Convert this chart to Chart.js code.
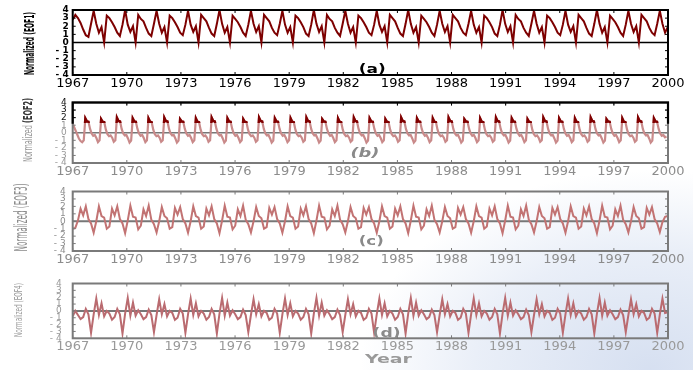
<!DOCTYPE html>
<html>
<head>
<meta charset="utf-8">
<script src="https://cdn.jsdelivr.net/npm/chart.js@4.4.0/dist/chart.umd.min.js"></script>
<style>
  html, body { margin: 0; padding: 0; }
  body {
    width: 693px; height: 370px; position: relative; overflow: hidden;
    background:
      radial-gradient(ellipse 290px 200px at 650px 370px, rgba(212,222,240,0.95), rgba(222,230,244,0.65) 60%, rgba(255,255,255,0) 100%),
      #fff;
  }
  canvas { position: absolute; left: 0; }
</style>
</head>
<body>
<canvas id="cA" width="693" height="92" style="top:0px"></canvas>
<canvas id="cB" width="693" height="88" style="top:92px"></canvas>
<canvas id="cC" width="693" height="88" style="top:180px"></canvas>
<canvas id="cD" width="693" height="102" style="top:268px"></canvas>
<script>
// tick labels
const yearTicks = [1967, 1970, 1973, 1976, 1979, 1982, 1985, 1988, 1991, 1994, 1997, 2000];
const valueTicks = [-4, -3, -2, -1, 0, 1, 2, 3, 4];

// sampling of the series (years between samples)
const START_YEAR = 1967;
const STEP_ACD = 0.1453;
const STEP_B = 0.08755;

// EOF1
const eof1 = [
  2.8, 3.4, 3.0, 2.4, 1.6, 0.9, 0.7, 2.3,
  3.9, 2.3, 1.2, 1.9, 0.0, 3.3, 3.0, 2.5, 1.9, 1.2, 0.8, 2.2,
  4.0, 2.2, 1.3, 2.0, 0.0, 3.4, 2.9, 2.6, 1.8, 1.1, 0.8, 2.3,
  3.9, 2.3, 1.2, 1.9, 0.0, 3.3, 3.0, 2.5, 1.9, 1.2, 0.9, 2.2,
  3.9, 2.2, 1.3, 2.0, 0.0, 3.4, 3.0, 2.6, 1.8, 1.1, 0.8, 2.3,
  4.0, 2.3, 1.2, 1.9, 0.0, 3.3, 2.9, 2.5, 1.9, 1.2, 0.8, 2.2,
  3.9, 2.3, 1.3, 2.0, 0.0, 3.4, 3.0, 2.6, 1.8, 1.2, 0.9, 2.3,
  3.9, 2.2, 1.2, 1.9, 0.0, 3.3, 3.0, 2.5, 1.9, 1.1, 0.8, 2.2,
  4.0, 2.3, 1.3, 2.0, 0.0, 3.4, 2.9, 2.6, 1.8, 1.2, 0.8, 2.3,
  3.9, 2.3, 1.2, 1.9, 0.0, 3.3, 3.0, 2.5, 1.9, 1.2, 0.9, 2.2,
  3.9, 2.2, 1.3, 2.0, 0.0, 3.4, 3.0, 2.6, 1.8, 1.1, 0.8, 2.3,
  4.0, 2.3, 1.2, 1.9, 0.0, 3.3, 2.9, 2.5, 1.9, 1.2, 0.8, 2.2,
  3.9, 2.3, 1.3, 2.0, 0.0, 3.4, 3.0, 2.6, 1.8, 1.2, 0.9, 2.3,
  3.9, 2.2, 1.2, 1.9, 0.0, 3.3, 3.0, 2.5, 1.9, 1.1, 0.8, 2.2,
  4.0, 2.3, 1.3, 2.0, 0.0, 3.4, 2.9, 2.6, 1.8, 1.2, 0.8, 2.3,
  3.9, 2.3, 1.2, 1.9, 0.0, 3.3, 3.0, 2.5, 1.9, 1.2, 0.9, 2.2,
  3.9, 2.2, 1.3, 2.0, 0.0, 3.4, 3.0, 2.6, 1.8, 1.1, 0.8, 2.3,
  4.0, 2.3, 1.2, 1.9, 0.0, 3.3, 2.9, 2.5, 1.9, 1.2, 0.8, 2.2,
  3.9, 2.3, 1.3, 2.0, 0.0, 3.4, 3.0, 2.6, 1.8, 1.2, 0.9, 2.3,
  3.9, 2.3, 1.2, 1.9
];

// EOF2
const eof2 = [
  1.2, 0.7, 0.2, -0.3, -0.8, -1.1, -1.25, -1.0,
  1.9, 1.5, 1.45, 0.5, -0.1, -0.4, -0.3, -0.7, -1.25, -1.0,
  1.8, 1.45, 1.4, 0.4, -0.2, -0.45, -0.35, -0.65, -1.2, -1.0,
  2.0, 1.55, 1.5, 0.5, -0.1, -0.35, -0.3, -0.75, -1.3, -1.05,
  1.9, 1.5, 1.45, 0.5, -0.1, -0.4, -0.3, -0.7, -1.25, -1.0,
  1.9, 1.45, 1.4, 0.4, -0.2, -0.45, -0.35, -0.65, -1.2, -1.0,
  2.0, 1.55, 1.5, 0.5, -0.1, -0.35, -0.3, -0.75, -1.3, -1.05,
  1.8, 1.5, 1.45, 0.5, -0.1, -0.4, -0.3, -0.7, -1.25, -1.0,
  1.9, 1.45, 1.4, 0.4, -0.2, -0.45, -0.35, -0.65, -1.2, -1.0,
  2.0, 1.55, 1.5, 0.5, -0.1, -0.35, -0.3, -0.75, -1.3, -1.05,
  1.9, 1.5, 1.45, 0.5, -0.1, -0.4, -0.3, -0.7, -1.25, -1.0,
  1.8, 1.45, 1.4, 0.4, -0.2, -0.45, -0.35, -0.65, -1.2, -1.0,
  2.0, 1.55, 1.5, 0.5, -0.1, -0.35, -0.3, -0.75, -1.3, -1.05,
  1.9, 1.5, 1.45, 0.5, -0.1, -0.4, -0.3, -0.7, -1.25, -1.0,
  1.9, 1.45, 1.4, 0.4, -0.2, -0.45, -0.35, -0.65, -1.2, -1.0,
  2.0, 1.55, 1.5, 0.5, -0.1, -0.35, -0.3, -0.75, -1.3, -1.05,
  1.8, 1.5, 1.45, 0.5, -0.1, -0.4, -0.3, -0.7, -1.25, -1.0,
  1.9, 1.45, 1.4, 0.4, -0.2, -0.45, -0.35, -0.65, -1.2, -1.0,
  2.0, 1.55, 1.5, 0.5, -0.1, -0.35, -0.3, -0.75, -1.3, -1.05,
  1.9, 1.5, 1.45, 0.5, -0.1, -0.4, -0.3, -0.7, -1.25, -1.0,
  1.8, 1.45, 1.4, 0.4, -0.2, -0.45, -0.35, -0.65, -1.2, -1.0,
  2.0, 1.55, 1.5, 0.5, -0.1, -0.35, -0.3, -0.75, -1.3, -1.05,
  1.9, 1.5, 1.45, 0.5, -0.1, -0.4, -0.3, -0.7, -1.25, -1.0,
  1.9, 1.45, 1.4, 0.4, -0.2, -0.45, -0.35, -0.65, -1.2, -1.0,
  2.0, 1.55, 1.5, 0.5, -0.1, -0.35, -0.3, -0.75, -1.3, -1.05,
  1.8, 1.5, 1.45, 0.5, -0.1, -0.4, -0.3, -0.7, -1.25, -1.0,
  1.9, 1.45, 1.4, 0.4, -0.2, -0.45, -0.35, -0.65, -1.2, -1.0,
  2.0, 1.55, 1.5, 0.5, -0.1, -0.35, -0.3, -0.75, -1.3, -1.05,
  1.9, 1.5, 1.45, 0.5, -0.1, -0.4, -0.3, -0.7, -1.25, -1.0,
  1.8, 1.45, 1.4, 0.4, -0.2, -0.45, -0.35, -0.65, -1.2, -1.0,
  2.0, 1.55, 1.5, 0.5, -0.1, -0.35, -0.3, -0.75, -1.3, -1.05,
  1.9, 1.5, 1.45, 0.5, -0.1, -0.4, -0.3, -0.7, -1.25, -1.0,
  1.9, 1.45, 1.4, 0.4, -0.2, -0.45, -0.35, -0.65, -1.2, -1.0,
  2.0, 1.55, 1.5, 0.5, -0.1, -0.35, -0.3, -0.75, -1.3, -1.05,
  1.8, 1.5, 1.45, 0.5, -0.1, -0.4, -0.3, -0.7, -1.25, -1.0,
  1.9, 1.45, 1.4, 0.4, -0.2, -0.45, -0.35, -0.65, -1.2, -1.0,
  2.0, 1.55, 1.5, 0.5, -0.1, -0.35, -0.3, -0.75, -1.3, -1.05,
  1.9, 1.5, 1.45, 0.5, -0.1, -0.4, -0.3, -0.6, -0.5
];

// EOF3
const eof3 = [
  -1.0, -0.9, 0.1, 1.7, 0.8, 2.0, 0.3, -0.3,
  -1.55, 0.0, 2.0, 0.7, 0.5, -1.0, -0.7, 1.7, 0.8, 2.0, 0.3, -0.3,
  -1.6, 0.1, 2.1, 0.6, 0.5, -1.1, -0.6, 1.6, 0.7, 2.1, 0.2, -0.4,
  -1.5, 0.0, 1.9, 0.7, 0.4, -1.0, -0.8, 1.8, 0.9, 1.9, 0.3, -0.3,
  -1.55, 0.0, 2.0, 0.7, 0.5, -1.0, -0.7, 1.7, 0.8, 2.0, 0.3, -0.3,
  -1.6, 0.1, 2.1, 0.6, 0.5, -1.1, -0.6, 1.6, 0.7, 2.1, 0.2, -0.4,
  -1.5, 0.0, 1.9, 0.7, 0.4, -1.0, -0.8, 1.8, 0.9, 1.9, 0.3, -0.3,
  -1.55, 0.0, 2.0, 0.7, 0.5, -1.0, -0.7, 1.7, 0.8, 2.0, 0.3, -0.3,
  -1.6, 0.1, 2.1, 0.6, 0.5, -1.1, -0.6, 1.6, 0.7, 2.1, 0.2, -0.4,
  -1.5, 0.0, 1.9, 0.7, 0.4, -1.0, -0.8, 1.8, 0.9, 1.9, 0.3, -0.3,
  -1.55, 0.0, 2.0, 0.7, 0.5, -1.0, -0.7, 1.7, 0.8, 2.0, 0.3, -0.3,
  -1.6, 0.1, 2.1, 0.6, 0.5, -1.1, -0.6, 1.6, 0.7, 2.1, 0.2, -0.4,
  -1.5, 0.0, 1.9, 0.7, 0.4, -1.0, -0.8, 1.8, 0.9, 1.9, 0.3, -0.3,
  -1.55, 0.0, 2.0, 0.7, 0.5, -1.0, -0.7, 1.7, 0.8, 2.0, 0.3, -0.3,
  -1.6, 0.1, 2.1, 0.6, 0.5, -1.1, -0.6, 1.6, 0.7, 2.1, 0.2, -0.4,
  -1.5, 0.0, 1.9, 0.7, 0.4, -1.0, -0.8, 1.8, 0.9, 1.9, 0.3, -0.3,
  -1.55, 0.0, 2.0, 0.7, 0.5, -1.0, -0.7, 1.7, 0.8, 2.0, 0.3, -0.3,
  -1.6, 0.1, 2.1, 0.6, 0.5, -1.1, -0.6, 1.6, 0.7, 2.1, 0.2, -0.4,
  -1.5, 0.0, 1.9, 0.7, 0.4, -1.0, -0.8, 1.8, 0.9, 1.9, 0.3, -0.3,
  -1.45, -0.1, 0.6, 0.7
];

// EOF4
const eof4 = [
  -0.8, 0.0, -0.6, -1.2, -0.9, 0.3, -0.5,
  -3.2, -0.5, 1.8, -0.6, 1.1, -0.8, 0.0, -0.4, -1.3, -0.9, 0.3, -0.5,
  -3.3, -0.4, 1.9, -0.7, 1.2, -0.7, 0.1, -0.5, -1.2, -0.9, 0.2, -0.6,
  -3.1, -0.6, 1.7, -0.5, 1.0, -0.8, 0.0, -0.3, -1.3, -1.0, 0.3, -0.4,
  -3.2, -0.5, 1.8, -0.6, 1.1, -0.8, 0.0, -0.4, -1.3, -0.9, 0.3, -0.5,
  -3.3, -0.4, 1.9, -0.7, 1.2, -0.7, 0.1, -0.5, -1.2, -0.9, 0.2, -0.6,
  -3.1, -0.6, 1.7, -0.5, 1.0, -0.8, 0.0, -0.3, -1.3, -1.0, 0.3, -0.4,
  -3.2, -0.5, 1.8, -0.6, 1.1, -0.8, 0.0, -0.4, -1.3, -0.9, 0.3, -0.5,
  -3.3, -0.4, 1.9, -0.7, 1.2, -0.7, 0.1, -0.5, -1.2, -0.9, 0.2, -0.6,
  -3.1, -0.6, 1.7, -0.5, 1.0, -0.8, 0.0, -0.3, -1.3, -1.0, 0.3, -0.4,
  -3.2, -0.5, 1.8, -0.6, 1.1, -0.8, 0.0, -0.4, -1.3, -0.9, 0.3, -0.5,
  -3.3, -0.4, 1.9, -0.7, 1.2, -0.7, 0.1, -0.5, -1.2, -0.9, 0.2, -0.6,
  -3.1, -0.6, 1.7, -0.5, 1.0, -0.8, 0.0, -0.3, -1.3, -1.0, 0.3, -0.4,
  -3.2, -0.5, 1.8, -0.6, 1.1, -0.8, 0.0, -0.4, -1.3, -0.9, 0.3, -0.5,
  -3.3, -0.4, 1.9, -0.7, 1.2, -0.7, 0.1, -0.5, -1.2, -0.9, 0.2, -0.6,
  -3.1, -0.6, 1.7, -0.5, 1.0, -0.8, 0.0, -0.3, -1.3, -1.0, 0.3, -0.4,
  -3.2, -0.5, 1.8, -0.6, 1.1, -0.8, 0.0, -0.4, -1.3, -0.9, 0.3, -0.5,
  -3.3, -0.4, 1.9, -0.7, 1.2, -0.7, 0.1, -0.5, -1.2, -0.9, 0.2, -0.6,
  -3.1, -0.6, 1.7, -0.5, 1.0, -0.8, 0.0, -0.3, -1.3, -1.0, 0.3, -0.4,
  -3.2, -0.5, 1.8, -0.3, -0.2
];

const FONT = '"DejaVu Sans", Verdana, sans-serif';

function toPoints(values, step) {
  return values.map((v, i) => ({ x: START_YEAR + i * step, y: v }));
}

function stretchText(ctx, text, cx, cy, width, font, color) {
  ctx.save();
  ctx.font = font;
  const w = ctx.measureText(text).width;
  ctx.translate(cx, cy);
  ctx.scale(width / w, 1);
  ctx.fillStyle = color;
  ctx.textAlign = 'center';
  ctx.textBaseline = 'middle';
  ctx.fillText(text, 0, 0);
  ctx.restore();
}

// rotated axis title squeezed to a given length
function yTitle(ctx, parts, cx, cy, len) {
  ctx.save();
  let total = 0;
  parts.forEach(p => { ctx.font = p.font; p.w = ctx.measureText(p.text).width; total += p.w; });
  ctx.translate(cx, cy);
  ctx.rotate(-Math.PI / 2);
  ctx.scale(len / total, 1);
  ctx.textBaseline = 'middle';
  ctx.textAlign = 'left';
  let xx = -total / 2;
  parts.forEach(p => {
    ctx.font = p.font;
    ctx.fillStyle = p.color;
    ctx.fillText(p.text, xx, 0);
    xx += p.w;
  });
  ctx.restore();
}

function drawFrame(chart, color, lw) {
  const { ctx, chartArea: a, scales: { x, y } } = chart;
  ctx.strokeStyle = color;
  ctx.lineWidth = lw;
  ctx.strokeRect(a.left, a.top, a.right - a.left, a.bottom - a.top);
  ctx.lineWidth = 1;
  ctx.beginPath();
  x.ticks.forEach(t => {
    const px = x.getPixelForValue(t.value);
    ctx.moveTo(px, a.top); ctx.lineTo(px, a.top + 3);
    ctx.moveTo(px, a.bottom); ctx.lineTo(px, a.bottom - 3);
  });
  y.ticks.forEach(t => {
    const py = y.getPixelForValue(t.value);
    ctx.moveTo(a.left, py); ctx.lineTo(a.left + 3, py);
    ctx.moveTo(a.right, py); ctx.lineTo(a.right - 3, py);
  });
  ctx.stroke();
}

function panelPlugin(p) {
  return {
    id: 'panel' + p.id,
    beforeDatasetsDraw(chart) {
      const { ctx, chartArea: a, scales: { y } } = chart;
      const y0 = y.getPixelForValue(0);
      ctx.save();
      ctx.strokeStyle = p.zero;
      ctx.lineWidth = p.zeroWidth;
      ctx.beginPath();
      ctx.moveTo(a.left, y0); ctx.lineTo(a.right, y0);
      ctx.stroke();
      ctx.restore();
    },
    beforeDatasetDraw(chart, args) {
      if (p.darkAbove == null || args.index !== 0) return;
      const { ctx, chartArea: a, scales: { y } } = chart;
      ctx.save();
      ctx.beginPath();
      ctx.rect(a.left, a.top, a.right - a.left, y.getPixelForValue(p.darkAbove) - a.top);
      ctx.clip();
    },
    afterDatasetDraw(chart, args) {
      if (p.darkAbove == null || args.index !== 0) return;
      chart.ctx.restore();
    },
    afterDraw(chart) {
      const { ctx, chartArea: a, scales: { x, y } } = chart;
      ctx.save();
      drawFrame(chart, p.frame, p.frameWidth);
      if (p.darkAbove != null) {
        ctx.beginPath();
        ctx.rect(0, 0, chart.width, y.getPixelForValue(p.darkAbove - 0.1));
        ctx.clip();
        drawFrame(chart, '#000', 2.2);
      }
      ctx.restore();
      yTitle(ctx, p.title, p.titleX, p.titleY, p.titleLen);
      stretchText(ctx, p.label, x.getPixelForValue(p.labelAt[0]), y.getPixelForValue(p.labelAt[1]),
        p.labelWidth, p.labelFont, p.labelColor);
      if (p.xTitle) {
        stretchText(ctx, p.xTitle, x.getPixelForValue(1984.5), a.bottom + 21.5, 47,
          'bold 13px ' + FONT, '#9a9a9a');
      }
    }
  };
}

const panels = [
  {
    id: 'cA', values: eof1, step: STEP_ACD, padTop: 10, padBottom: 0,
    line: '#7d0000', lw: 2, frame: '#000', frameWidth: 2, zero: '#000', zeroWidth: 1.5,
    xText: '#000', yText: '#000', yWeight: 'bold', yPad: 4,
    title: [{ text: 'Normalized (EOF1)', color: '#000', font: 'bold 14px ' + FONT }],
    titleX: 30, titleY: 43.5, titleLen: 63,
    label: '(a)', labelAt: [1983.6, -3.35], labelWidth: 27, labelFont: 'bold 12px ' + FONT, labelColor: '#000'
  },
  {
    id: 'cB', values: eof2, step: STEP_B, padTop: 5.3, padBottom: 0, darkAbove: 1.3,
    line: '#c98a8a', lw: 2.2, frame: '#7a7a7a', frameWidth: 2, zero: '#777', zeroWidth: 1.5,
    xText: '#8c8c8c', yText: c => (c.tick && c.tick.value >= 2 ? '#111' : '#999'), yWeight: 'normal', yPad: 6,
    title: [{ text: 'Normalized ', color: '#9a9a9a', font: '13px ' + FONT },
            { text: '(EOF2)', color: '#333', font: 'bold 13px ' + FONT }],
    titleX: 28.3, titleY: 38, titleLen: 64,
    label: '(b)', labelAt: [1983.2, -2.75], labelWidth: 29, labelFont: 'italic bold 12px ' + FONT, labelColor: '#8a8a8a'
  },
  {
    id: 'cC', values: eof3, step: STEP_ACD, padTop: 5.7, padBottom: 0,
    line: '#c27373', lw: 2, frame: '#7a7a7a', frameWidth: 2, zero: '#777', zeroWidth: 2,
    xText: '#8c8c8c', yText: '#8c8c8c', yWeight: 'normal', yPad: 7,
    title: [{ text: 'Normalized (EOF3)', color: '#8a8a8a', font: '17px ' + FONT }],
    titleX: 22.5, titleY: 37.5, titleLen: 68,
    label: '(c)', labelAt: [1983.55, -2.75], labelWidth: 25, labelFont: 'bold 12px ' + FONT, labelColor: '#8a8a8a'
  },
  {
    id: 'cD', values: eof4, step: STEP_ACD, padTop: 5.3, padBottom: 14.7, xTitle: 'Year',
    line: '#ba6b70', lw: 2, frame: '#7a7a7a', frameWidth: 2, zero: '#777', zeroWidth: 2,
    xText: '#999', yText: '#999', yWeight: 'normal', yPad: 11,
    title: [{ text: 'Normalized (EOF4)', color: '#9a9a9a', font: '11px ' + FONT }],
    titleX: 18.7, titleY: 42, titleLen: 54,
    label: '(d)', labelAt: [1984.4, -3.3], labelWidth: 28, labelFont: 'bold 12px ' + FONT, labelColor: '#8a8a8a'
  }
];

const charts = panels.map(p => {
  const points = toPoints(p.values, p.step);
  const datasets = [];
  if (p.darkAbove != null) {
    datasets.push({ data: points, borderColor: '#800000', borderWidth: 2.4, pointRadius: 0, tension: 0 });
  }
  datasets.push({ data: points, borderColor: p.line, borderWidth: p.lw, pointRadius: 0, tension: 0 });

  return new Chart(document.getElementById(p.id), {
    type: 'line',
    data: { datasets },
    options: {
      responsive: false,
      animation: false,
      events: [],
      layout: { padding: { top: p.padTop, right: 25, bottom: p.padBottom, left: 0 } },
      plugins: { legend: { display: false }, tooltip: { enabled: false } },
      scales: {
        x: {
          type: 'linear', min: START_YEAR, max: 2000,
          afterBuildTicks: s => { s.ticks = yearTicks.map(v => ({ value: v })); },
          afterFit: s => { s.height = 17; },
          grid: { display: false, drawTicks: false }, border: { display: false },
          ticks: {
            padding: 1, autoSkip: false, maxRotation: 0, color: p.xText,
            font: { family: FONT, size: 13 }, callback: v => String(v)
          }
        },
        y: {
          min: -4, max: 4,
          afterBuildTicks: s => { s.ticks = valueTicks.map(v => ({ value: v })); },
          afterFit: s => { s.width = 72.7; },
          grid: { display: false, drawTicks: false }, border: { display: false },
          ticks: {
            padding: p.yPad, autoSkip: false, color: p.yText,
            font: { family: FONT, size: 9, weight: p.yWeight, lineHeight: 1 },
            callback: v => (v < 0 ? '- ' + (-v) : String(v))
          }
        }
      }
    },
    plugins: [panelPlugin(p)]
  });
});
</script>
</body>
</html>
